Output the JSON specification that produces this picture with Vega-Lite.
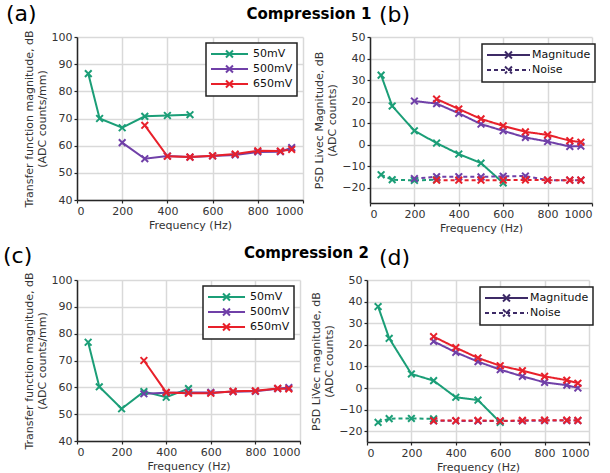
{
  "$schema": "https://vega.github.io/schema/vega-lite/v6.json",
  "background": "white",
  "padding": {"left": 3, "top": 2, "right": 4, "bottom": 2},
  "config": {
    "font": "DejaVu Sans",
    "view": {"stroke": null},
    "axis": {
      "labelFont": "DejaVu Sans", "titleFont": "DejaVu Sans",
      "labelFontSize": 11, "titleFontSize": 11, "titleFontWeight": "normal",
      "labelColor": "#333333", "titleColor": "#333333",
      "domainColor": "#262626", "domainWidth": 1.5,
      "tickColor": "#262626", "tickSize": 3, "tickWidth": 1.2,
      "gridColor": "#d9d9d9", "gridWidth": 1.5,
      "labelPadding": 2, "format": "d"
    },
    "axisX": {"titlePadding": 3},
    "axisY": {"titlePadding": 4},
    "legend": {
      "labelFont": "DejaVu Sans", "labelFontSize": 11, "labelColor": "#111111",
      "strokeColor": "#222222", "strokeWidth": 1.5, "fillColor": "white",
      "padding": 4, "rowPadding": -2, "title": null,
      "symbolType": "M-1,0L5.17,0M1.5,-0.58L2.66,0.58M2.66,-0.58L1.5,0.58",
      "symbolSize": 144, "symbolStrokeWidth": 2, "labelOffset": 29
    },
    "title": {"font": "DejaVu Sans", "color": "#000000"}
  },
  "data": {"values": [
    {"p": "a", "s": "50mV", "t": "Magnitude", "f": 50, "v": 86.5},
    {"p": "a", "s": "50mV", "t": "Magnitude", "f": 100, "v": 70},
    {"p": "a", "s": "50mV", "t": "Magnitude", "f": 200, "v": 66.6},
    {"p": "a", "s": "50mV", "t": "Magnitude", "f": 300, "v": 70.8},
    {"p": "a", "s": "50mV", "t": "Magnitude", "f": 400, "v": 71.1},
    {"p": "a", "s": "50mV", "t": "Magnitude", "f": 500, "v": 71.4},
    {"p": "a", "s": "500mV", "t": "Magnitude", "f": 200, "v": 61.1},
    {"p": "a", "s": "500mV", "t": "Magnitude", "f": 300, "v": 55.2},
    {"p": "a", "s": "500mV", "t": "Magnitude", "f": 400, "v": 56.2},
    {"p": "a", "s": "500mV", "t": "Magnitude", "f": 500, "v": 55.8},
    {"p": "a", "s": "500mV", "t": "Magnitude", "f": 600, "v": 56.2},
    {"p": "a", "s": "500mV", "t": "Magnitude", "f": 700, "v": 56.6},
    {"p": "a", "s": "500mV", "t": "Magnitude", "f": 800, "v": 57.7},
    {"p": "a", "s": "500mV", "t": "Magnitude", "f": 900, "v": 57.8},
    {"p": "a", "s": "500mV", "t": "Magnitude", "f": 950, "v": 59.3},
    {"p": "a", "s": "650mV", "t": "Magnitude", "f": 300, "v": 67.5},
    {"p": "a", "s": "650mV", "t": "Magnitude", "f": 400, "v": 56.1},
    {"p": "a", "s": "650mV", "t": "Magnitude", "f": 500, "v": 55.8},
    {"p": "a", "s": "650mV", "t": "Magnitude", "f": 600, "v": 56.3},
    {"p": "a", "s": "650mV", "t": "Magnitude", "f": 700, "v": 56.9},
    {"p": "a", "s": "650mV", "t": "Magnitude", "f": 800, "v": 58.1},
    {"p": "a", "s": "650mV", "t": "Magnitude", "f": 900, "v": 58},
    {"p": "a", "s": "650mV", "t": "Magnitude", "f": 950, "v": 58.6},

    {"p": "b", "s": "50mV", "t": "Magnitude", "f": 50, "v": 32.3},
    {"p": "b", "s": "50mV", "t": "Magnitude", "f": 100, "v": 18},
    {"p": "b", "s": "50mV", "t": "Magnitude", "f": 200, "v": 6.5},
    {"p": "b", "s": "50mV", "t": "Magnitude", "f": 300, "v": 0.8},
    {"p": "b", "s": "50mV", "t": "Magnitude", "f": 400, "v": -4.3},
    {"p": "b", "s": "50mV", "t": "Magnitude", "f": 500, "v": -8.5},
    {"p": "b", "s": "50mV", "t": "Magnitude", "f": 600, "v": -17.7},
    {"p": "b", "s": "50mV", "t": "Noise", "f": 50, "v": -13.9},
    {"p": "b", "s": "50mV", "t": "Noise", "f": 100, "v": -16.2},
    {"p": "b", "s": "50mV", "t": "Noise", "f": 200, "v": -16.5},
    {"p": "b", "s": "50mV", "t": "Noise", "f": 300, "v": -16.2},
    {"p": "b", "s": "500mV", "t": "Magnitude", "f": 200, "v": 20.3},
    {"p": "b", "s": "500mV", "t": "Magnitude", "f": 300, "v": 19.1},
    {"p": "b", "s": "500mV", "t": "Magnitude", "f": 400, "v": 14.6},
    {"p": "b", "s": "500mV", "t": "Magnitude", "f": 500, "v": 9.6},
    {"p": "b", "s": "500mV", "t": "Magnitude", "f": 600, "v": 6.5},
    {"p": "b", "s": "500mV", "t": "Magnitude", "f": 700, "v": 3.4},
    {"p": "b", "s": "500mV", "t": "Magnitude", "f": 800, "v": 1.5},
    {"p": "b", "s": "500mV", "t": "Magnitude", "f": 900, "v": -0.8},
    {"p": "b", "s": "500mV", "t": "Magnitude", "f": 950, "v": -0.6},
    {"p": "b", "s": "500mV", "t": "Noise", "f": 200, "v": -15.7},
    {"p": "b", "s": "500mV", "t": "Noise", "f": 300, "v": -14.8},
    {"p": "b", "s": "500mV", "t": "Noise", "f": 400, "v": -14.8},
    {"p": "b", "s": "500mV", "t": "Noise", "f": 500, "v": -14.9},
    {"p": "b", "s": "500mV", "t": "Noise", "f": 600, "v": -14.6},
    {"p": "b", "s": "500mV", "t": "Noise", "f": 700, "v": -14.5},
    {"p": "b", "s": "500mV", "t": "Noise", "f": 800, "v": -16.4},
    {"p": "b", "s": "500mV", "t": "Noise", "f": 900, "v": -16.4},
    {"p": "b", "s": "500mV", "t": "Noise", "f": 950, "v": -16.4},
    {"p": "b", "s": "650mV", "t": "Magnitude", "f": 300, "v": 21.2},
    {"p": "b", "s": "650mV", "t": "Magnitude", "f": 400, "v": 16.6},
    {"p": "b", "s": "650mV", "t": "Magnitude", "f": 500, "v": 12},
    {"p": "b", "s": "650mV", "t": "Magnitude", "f": 600, "v": 8.8},
    {"p": "b", "s": "650mV", "t": "Magnitude", "f": 700, "v": 6},
    {"p": "b", "s": "650mV", "t": "Magnitude", "f": 800, "v": 4.6},
    {"p": "b", "s": "650mV", "t": "Magnitude", "f": 900, "v": 1.9},
    {"p": "b", "s": "650mV", "t": "Magnitude", "f": 950, "v": 1.2},
    {"p": "b", "s": "650mV", "t": "Noise", "f": 300, "v": -16.4},
    {"p": "b", "s": "650mV", "t": "Noise", "f": 400, "v": -16.4},
    {"p": "b", "s": "650mV", "t": "Noise", "f": 500, "v": -16.4},
    {"p": "b", "s": "650mV", "t": "Noise", "f": 600, "v": -16.4},
    {"p": "b", "s": "650mV", "t": "Noise", "f": 700, "v": -16.3},
    {"p": "b", "s": "650mV", "t": "Noise", "f": 800, "v": -16.4},
    {"p": "b", "s": "650mV", "t": "Noise", "f": 900, "v": -16.4},
    {"p": "b", "s": "650mV", "t": "Noise", "f": 950, "v": -16.4},

    {"p": "c", "s": "50mV", "t": "Magnitude", "f": 50, "v": 76.8},
    {"p": "c", "s": "50mV", "t": "Magnitude", "f": 100, "v": 60.2},
    {"p": "c", "s": "50mV", "t": "Magnitude", "f": 200, "v": 52},
    {"p": "c", "s": "50mV", "t": "Magnitude", "f": 300, "v": 58.4},
    {"p": "c", "s": "50mV", "t": "Magnitude", "f": 400, "v": 56.3},
    {"p": "c", "s": "50mV", "t": "Magnitude", "f": 500, "v": 59.5},
    {"p": "c", "s": "500mV", "t": "Magnitude", "f": 300, "v": 57.6},
    {"p": "c", "s": "500mV", "t": "Magnitude", "f": 400, "v": 58},
    {"p": "c", "s": "500mV", "t": "Magnitude", "f": 500, "v": 58.1},
    {"p": "c", "s": "500mV", "t": "Magnitude", "f": 600, "v": 58.1},
    {"p": "c", "s": "500mV", "t": "Magnitude", "f": 700, "v": 58.4},
    {"p": "c", "s": "500mV", "t": "Magnitude", "f": 800, "v": 58.5},
    {"p": "c", "s": "500mV", "t": "Magnitude", "f": 900, "v": 59.5},
    {"p": "c", "s": "500mV", "t": "Magnitude", "f": 950, "v": 59.9},
    {"p": "c", "s": "650mV", "t": "Magnitude", "f": 300, "v": 70},
    {"p": "c", "s": "650mV", "t": "Magnitude", "f": 400, "v": 58.1},
    {"p": "c", "s": "650mV", "t": "Magnitude", "f": 500, "v": 57.8},
    {"p": "c", "s": "650mV", "t": "Magnitude", "f": 600, "v": 57.8},
    {"p": "c", "s": "650mV", "t": "Magnitude", "f": 700, "v": 58.5},
    {"p": "c", "s": "650mV", "t": "Magnitude", "f": 800, "v": 58.7},
    {"p": "c", "s": "650mV", "t": "Magnitude", "f": 900, "v": 59.6},
    {"p": "c", "s": "650mV", "t": "Magnitude", "f": 950, "v": 59.4},

    {"p": "d", "s": "50mV", "t": "Magnitude", "f": 50, "v": 37.7},
    {"p": "d", "s": "50mV", "t": "Magnitude", "f": 100, "v": 23},
    {"p": "d", "s": "50mV", "t": "Magnitude", "f": 200, "v": 6.5},
    {"p": "d", "s": "50mV", "t": "Magnitude", "f": 300, "v": 3.4},
    {"p": "d", "s": "50mV", "t": "Magnitude", "f": 400, "v": -4.3},
    {"p": "d", "s": "50mV", "t": "Magnitude", "f": 500, "v": -5.6},
    {"p": "d", "s": "50mV", "t": "Magnitude", "f": 600, "v": -15.9},
    {"p": "d", "s": "50mV", "t": "Noise", "f": 50, "v": -15.9},
    {"p": "d", "s": "50mV", "t": "Noise", "f": 100, "v": -14.2},
    {"p": "d", "s": "50mV", "t": "Noise", "f": 200, "v": -14.1},
    {"p": "d", "s": "50mV", "t": "Noise", "f": 300, "v": -14.3},
    {"p": "d", "s": "500mV", "t": "Magnitude", "f": 300, "v": 21.6},
    {"p": "d", "s": "500mV", "t": "Magnitude", "f": 400, "v": 16.5},
    {"p": "d", "s": "500mV", "t": "Magnitude", "f": 500, "v": 12.2},
    {"p": "d", "s": "500mV", "t": "Magnitude", "f": 600, "v": 8.5},
    {"p": "d", "s": "500mV", "t": "Magnitude", "f": 700, "v": 5.4},
    {"p": "d", "s": "500mV", "t": "Magnitude", "f": 800, "v": 2.6},
    {"p": "d", "s": "500mV", "t": "Magnitude", "f": 900, "v": 1.3},
    {"p": "d", "s": "500mV", "t": "Magnitude", "f": 950, "v": 0},
    {"p": "d", "s": "500mV", "t": "Noise", "f": 300, "v": -15.2},
    {"p": "d", "s": "500mV", "t": "Noise", "f": 400, "v": -15.2},
    {"p": "d", "s": "500mV", "t": "Noise", "f": 500, "v": -15.3},
    {"p": "d", "s": "500mV", "t": "Noise", "f": 600, "v": -15.3},
    {"p": "d", "s": "500mV", "t": "Noise", "f": 700, "v": -15.2},
    {"p": "d", "s": "500mV", "t": "Noise", "f": 800, "v": -15.1},
    {"p": "d", "s": "500mV", "t": "Noise", "f": 900, "v": -15.1},
    {"p": "d", "s": "500mV", "t": "Noise", "f": 950, "v": -15.1},
    {"p": "d", "s": "650mV", "t": "Magnitude", "f": 300, "v": 23.8},
    {"p": "d", "s": "650mV", "t": "Magnitude", "f": 400, "v": 18.7},
    {"p": "d", "s": "650mV", "t": "Magnitude", "f": 500, "v": 13.9},
    {"p": "d", "s": "650mV", "t": "Magnitude", "f": 600, "v": 10.3},
    {"p": "d", "s": "650mV", "t": "Magnitude", "f": 700, "v": 8},
    {"p": "d", "s": "650mV", "t": "Magnitude", "f": 800, "v": 5.4},
    {"p": "d", "s": "650mV", "t": "Magnitude", "f": 900, "v": 3.6},
    {"p": "d", "s": "650mV", "t": "Magnitude", "f": 950, "v": 2.2},
    {"p": "d", "s": "650mV", "t": "Noise", "f": 300, "v": -15.1},
    {"p": "d", "s": "650mV", "t": "Noise", "f": 400, "v": -15.1},
    {"p": "d", "s": "650mV", "t": "Noise", "f": 500, "v": -15},
    {"p": "d", "s": "650mV", "t": "Noise", "f": 600, "v": -15.2},
    {"p": "d", "s": "650mV", "t": "Noise", "f": 700, "v": -15},
    {"p": "d", "s": "650mV", "t": "Noise", "f": 800, "v": -14.9},
    {"p": "d", "s": "650mV", "t": "Noise", "f": 900, "v": -14.9},
    {"p": "d", "s": "650mV", "t": "Noise", "f": 950, "v": -15}
  ]},
  "spacing": 11,
  "vconcat": [
    {
      "title": {"text": "Compression 1", "fontSize": 15, "fontWeight": "bold", "anchor": "middle", "offset": -19, "dx": 8},
      "spacing": 9,
      "resolve": {"scale": {"color": "independent", "strokeDash": "independent"}, "legend": {"color": "independent", "strokeDash": "independent"}},
      "hconcat": [
        {
          "title": {"text": "(a)", "fontSize": 22, "fontWeight": "normal", "anchor": "start", "frame": "bounds", "dx": -17, "offset": 4},
          "width": 226, "height": 163,
          "transform": [{"filter": "datum.p == 'a'"}],
          "encoding": {
            "x": {"field": "f", "type": "quantitative", "scale": {"domain": [0, 1000], "nice": false}, "axis": {"values": [0, 200, 400, 600, 800, 1000], "title": "Frequency (Hz)"}},
            "y": {"field": "v", "type": "quantitative", "scale": {"domain": [40, 100], "nice": false}, "axis": {"values": [40, 50, 60, 70, 80, 90, 100], "title": ["Transfer function magnitude, dB", "(ADC counts/mm)"]}},
            "color": {"field": "s", "type": "nominal", "scale": {"domain": ["50mV", "500mV", "650mV"], "range": ["#1b9e77", "#7040a8", "#e8202a"]},
              "legend": {"orient": "none", "legendX": 129, "legendY": 6}}
          },
          "layer": [
            {"mark": {"type": "line", "strokeWidth": 2}},
            {"mark": {"type": "point", "shape": "M-1,-1L1,1M1,-1L-1,1", "filled": false, "size": 45, "strokeWidth": 2, "opacity": 1}}
          ]
        },
        {
          "title": {"text": "(b)", "fontSize": 22, "fontWeight": "normal", "anchor": "start", "frame": "group", "dx": 9, "offset": 4},
          "width": 222, "height": 166,
          "transform": [{"filter": "datum.p == 'b'"}],
          "encoding": {
            "x": {"field": "f", "type": "quantitative", "scale": {"domain": [0, 1000], "nice": false}, "axis": {"values": [0, 200, 400, 600, 800, 1000], "title": "Frequency (Hz)"}},
            "y": {"field": "v", "type": "quantitative", "scale": {"domain": [-27, 50], "nice": false}, "axis": {"values": [-20, -10, 0, 10, 20, 30, 40, 50], "title": ["PSD Livec Magnitude, dB", "(ADC counts)"]}},
            "color": {"field": "s", "type": "nominal", "scale": {"domain": ["50mV", "500mV", "650mV"], "range": ["#1b9e77", "#7040a8", "#e8202a"]}, "legend": null},
            "strokeDash": {"field": "t", "type": "nominal", "scale": {"domain": ["Magnitude", "Noise"], "range": [[1, 0], [4, 3]]},
              "legend": {"orient": "none", "legendX": 112, "legendY": 7, "symbolStrokeColor": "#3d2a66",
                "symbolType": "M-1,0L6.17,0M2,-0.58L3.16,0.58M3.16,-0.58L2,0.58", "labelOffset": 32}}
          },
          "layer": [
            {"mark": {"type": "line", "strokeWidth": 2}},
            {"mark": {"type": "point", "shape": "M-1,-1L1,1M1,-1L-1,1", "filled": false, "size": 45, "strokeWidth": 2, "opacity": 1}, "encoding": {"strokeDash": {"value": [1, 0]}}}
          ]
        }
      ]
    },
    {
      "title": {"text": "Compression 2", "fontSize": 15, "fontWeight": "bold", "anchor": "middle", "offset": -16, "dx": 8},
      "spacing": 9,
      "resolve": {"scale": {"color": "independent", "strokeDash": "independent"}, "legend": {"color": "independent", "strokeDash": "independent"}},
      "hconcat": [
        {
          "title": {"text": "(c)", "fontSize": 22, "fontWeight": "normal", "anchor": "start", "frame": "bounds", "dx": -20, "offset": 4},
          "width": 223, "height": 161,
          "transform": [{"filter": "datum.p == 'c'"}],
          "encoding": {
            "x": {"field": "f", "type": "quantitative", "scale": {"domain": [0, 1000], "nice": false}, "axis": {"values": [0, 200, 400, 600, 800, 1000], "title": "Frequency (Hz)"}},
            "y": {"field": "v", "type": "quantitative", "scale": {"domain": [40, 100], "nice": false}, "axis": {"values": [40, 50, 60, 70, 80, 90, 100], "title": ["Transfer function magnitude, dB", "(ADC counts/mm)"]}},
            "color": {"field": "s", "type": "nominal", "scale": {"domain": ["50mV", "500mV", "650mV"], "range": ["#1b9e77", "#7040a8", "#e8202a"]},
              "legend": {"orient": "none", "legendX": 126, "legendY": 6}}
          },
          "layer": [
            {"mark": {"type": "line", "strokeWidth": 2}},
            {"mark": {"type": "point", "shape": "M-1,-1L1,1M1,-1L-1,1", "filled": false, "size": 45, "strokeWidth": 2, "opacity": 1}}
          ]
        },
        {
          "title": {"text": "(d)", "fontSize": 22, "fontWeight": "normal", "anchor": "start", "frame": "group", "dx": 12, "offset": 4},
          "width": 222, "height": 162,
          "transform": [{"filter": "datum.p == 'd'"}],
          "encoding": {
            "x": {"field": "f", "type": "quantitative", "scale": {"domain": [0, 1000], "nice": false}, "axis": {"values": [0, 200, 400, 600, 800, 1000], "title": "Frequency (Hz)"}},
            "y": {"field": "v", "type": "quantitative", "scale": {"domain": [-25, 50], "nice": false}, "axis": {"values": [-20, -10, 0, 10, 20, 30, 40, 50], "title": ["PSD LiVec magnitude, dB", "(ADC counts)"]}},
            "color": {"field": "s", "type": "nominal", "scale": {"domain": ["50mV", "500mV", "650mV"], "range": ["#1b9e77", "#7040a8", "#e8202a"]}, "legend": null},
            "strokeDash": {"field": "t", "type": "nominal", "scale": {"domain": ["Magnitude", "Noise"], "range": [[1, 0], [4, 3]]},
              "legend": {"orient": "none", "legendX": 113, "legendY": 7, "symbolStrokeColor": "#3d2a66",
                "symbolType": "M-1,0L6.17,0M2,-0.58L3.16,0.58M3.16,-0.58L2,0.58", "labelOffset": 32}}
          },
          "layer": [
            {"mark": {"type": "line", "strokeWidth": 2}},
            {"mark": {"type": "point", "shape": "M-1,-1L1,1M1,-1L-1,1", "filled": false, "size": 45, "strokeWidth": 2, "opacity": 1}, "encoding": {"strokeDash": {"value": [1, 0]}}}
          ]
        }
      ]
    }
  ]
}
